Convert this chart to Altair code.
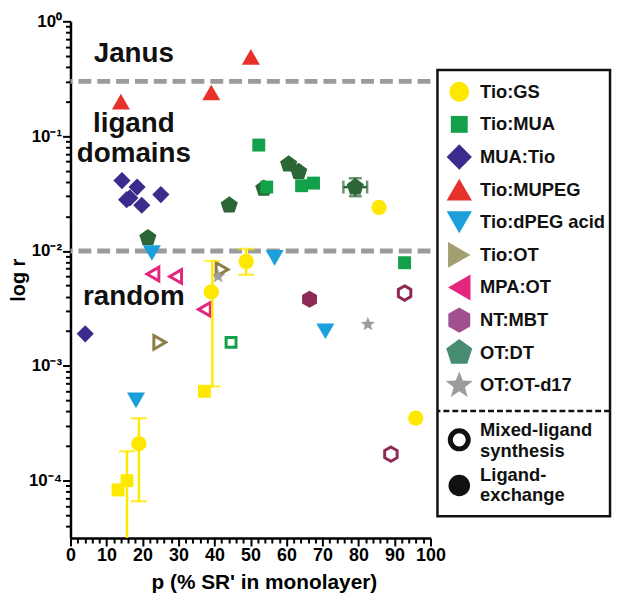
import math
import altair as alt
import pandas as pd

# ---------------- data ----------------
# Tio:GS
GS_P = [85.7, 95.9, 39.1, 19.0, 48.8, 37.2, 13.2, 15.7]
GS_R = [0.024, 3.5e-4, 0.0044, 2.1e-4, 0.0081, 6.0e-4, 8.3e-5, 1.0e-4]
GS_OPEN = [0, 0, 0, 0, 0, 0, 0, 0]
GS_SQ = [0, 0, 0, 0, 0, 1, 1, 1]
# Tio:MUA
MUA_P = [52.3, 54.5, 64.2, 67.5, 92.8, 44.6]
MUA_R = [0.0836, 0.036, 0.037, 0.039, 0.0079, 0.0016]
MUA_OPEN = [0, 0, 0, 0, 0, 1]
# MUA:Tio
MT_P = [14.3, 18.5, 16.5, 19.8, 25.1, 15.6, 4.1]
MT_R = [0.041, 0.036, 0.029, 0.025, 0.031, 0.028, 0.0019]
MT_OPEN = [0, 0, 0, 0, 0, 0, 0]
# Tio:MUPEG
PEG_P = [14.0, 39.1, 50.1]
PEG_R = [0.20, 0.24, 0.49]
PEG_OPEN = [0, 0, 0]
# Tio:dPEG acid
DP_P = [22.6, 56.7, 70.8, 18.2]
DP_R = [0.0096, 0.0087, 0.0020, 5.0e-4]
DP_OPEN = [0, 0, 0, 0]
# Tio:OT
TOT_P = [42.1, 24.8]
TOT_R = [0.0069, 0.0016]
TOT_OPEN = [1, 1]
# MPA:OT
MPA_P = [22.9, 29.2, 37.2]
MPA_R = [0.0063, 0.0060, 0.0031]
MPA_OPEN = [1, 1, 1]
# NT:MBT
NT_P = [66.4, 92.8, 89.0]
NT_R = [0.0038, 0.0043, 1.7e-4]
NT_OPEN = [0, 1, 1]
# OT:DT
DT_P = [21.5, 44.1, 53.7, 60.6, 63.4, 79.1]
DT_R = [0.013, 0.025, 0.035, 0.057, 0.049, 0.036]
DT_OPEN = [0, 0, 0, 0, 0, 0]
# OT:OT-d17
D17_P = [41.0, 82.6]
D17_R = [0.0060, 0.0023]
D17_OPEN = [0, 0]

# vertical error bars (Tio:GS)
GS_ERR_P = [39.4, 48.8, 19.0, 15.7]
GS_ERR_LO = [6.6e-4, 0.0062, 6.6e-5, 1e-6]
GS_ERR_HI = [0.0082, 0.0104, 3.5e-4, 1.8e-4]
# OT:DT error bars (one point)
DT_ERR_P = [79.1]
DT_ERR_R = [0.036]
DT_ERR_PLO = [75.8]
DT_ERR_PHI = [82.4]
DT_ERR_RLO = [0.030]
DT_ERR_RHI = [0.043]

THRESH = [0.3, 0.01]
ANNOT_TEXT = ["Janus", "ligand", "domains", "random"]
ANNOT_P = [17.6, 17.6, 17.6, 17.6]
ANNOT_R = [0.52, 0.127, 0.070, 0.0040]

LEGEND_LABELS = ["Tio:GS", "Tio:MUA", "MUA:Tio", "Tio:MUPEG", "Tio:dPEG acid",
                 "Tio:OT", "MPA:OT", "NT:MBT", "OT:DT", "OT:OT-d17"]

# ---------------- styles ----------------
FONT = "Liberation Sans"
HEX = "M0,-1L0.866,-0.5L0.866,0.5L0,1L-0.866,0.5L-0.866,-0.5Z"


def poly(n, r_in=None):
    pts = []
    k = n * (2 if r_in else 1)
    for i in range(k):
        a = -math.pi / 2 + i * 2 * math.pi / k
        rr = 1 if (r_in is None or i % 2 == 0) else r_in
        pts.append(f"{rr * math.cos(a):.3f},{rr * math.sin(a):.3f}")
    return "M" + "L".join(pts) + "Z"


PENT = poly(5)
STAR = poly(5, 0.42)

# name: (plot colour, legend colour, shape, filled size, open size, legend size)
STY = {
    "Tio:GS": ("#FFE800", "#FFE800", "circle", 240, 200, 400),
    "Tio:MUA": ("#12A04A", "#12A04A", "square", 170, 100, 290),
    "MUA:Tio": ("#3C2A8C", "#3C2A8C", "diamond", 300, 200, 650),
    "Tio:MUPEG": ("#E8312B", "#E8312B", "triangle-up", 330, 250, 650),
    "Tio:dPEG acid": ("#1BA0DC", "#1BA0DC", "triangle-down", 330, 250, 650),
    "Tio:OT": ("#8C7E42", "#A39F72", "triangle-right", 300, 190, 680),
    "MPA:OT": ("#E5267E", "#E5267E", "triangle-left", 300, 190, 680),
    "NT:MBT": ("#8D2A56", "#A24F8F", HEX, 300, 210, 650),
    "OT:DT": ("#2C6636", "#488C72", PENT, 330, 250, 760),
    "OT:OT-d17": ("#9C9C9C", "#9C9C9C", STAR, 230, 180, 820),
}

rows = []


def add(name, ps, rs, opens, shapes=None):
    col, _, shp, s_f, s_o, _ = STY[name]
    for i, (p, r, o) in enumerate(zip(ps, rs, opens)):
        sh = shp
        if shapes is not None and shapes[i]:
            sh = "square"
        rows.append(dict(series=name, p=p, r=r,
                         shape=sh,
                         fill="#ffffff" if o else col,
                         stroke=col,
                         sw=3 if o else 0,
                         size=(s_o if o else (170 if sh == "square" and name == "Tio:GS" else s_f))))


add("OT:DT", DT_P, DT_R, DT_OPEN)
add("Tio:MUA", MUA_P, MUA_R, MUA_OPEN)
add("MUA:Tio", MT_P, MT_R, MT_OPEN)
add("Tio:MUPEG", PEG_P, PEG_R, PEG_OPEN)
add("Tio:dPEG acid", DP_P, DP_R, DP_OPEN)
add("Tio:OT", TOT_P, TOT_R, TOT_OPEN)
add("MPA:OT", MPA_P, MPA_R, MPA_OPEN)
add("NT:MBT", NT_P, NT_R, NT_OPEN)
add("OT:OT-d17", D17_P, D17_R, D17_OPEN)
add("Tio:GS", GS_P, GS_R, GS_OPEN, GS_SQ)
pts_df = pd.DataFrame(rows)

W, H = 363, 521
YDOM = [10 ** -4.5, 1]

y_vals = []
for e in range(-5, 0):
    for m in range(1, 10):
        v = m * 10 ** e
        if YDOM[0] <= v <= 1.0001:
            y_vals.append(v)
y_vals.append(1.0)

is_major_y = "abs(log(datum.value)/LN10 - round(log(datum.value)/LN10)) < 0.001"
y_label = ("abs(log(datum.value)/LN10 - round(log(datum.value)/LN10)) < 0.001 ? "
           "'10' + ['\u2070','\u207b\u00b9','\u207b\u00b2','\u207b\u00b3','\u207b\u2074']"
           "[-round(log(datum.value)/LN10)] : ''")

x_scale = alt.Scale(domain=[0, 100], nice=False, zero=False)
y_scale = alt.Scale(type="log", domain=YDOM, nice=False)

x_axis = alt.Axis(
    values=list(range(0, 101, 2)),
    labelExpr="datum.value % 10 == 0 ? datum.label : ''",
    tickSize={"condition": {"test": "datum.value % 10 == 0", "value": 8}, "value": 5},
    tickWidth=2, tickColor="black", domainWidth=2.5, domainColor="black",
    labelFont=FONT, labelFontSize=18, labelFontWeight="bold", labelColor="black",
    labelFlush=False, labelOverlap=False, labelPadding=1,
    title="p (% SR' in monolayer)", titleFont=FONT, titleFontSize=21,
    titleFontWeight="bold", titleColor="black", titlePadding=7, titleX=195,
    grid=False,
)
y_axis = alt.Axis(
    values=y_vals, labelExpr=y_label,
    tickSize={"condition": {"test": is_major_y, "value": 8}, "value": 5},
    tickWidth=2, tickColor="black", domainWidth=2.5, domainColor="black",
    labelFont=FONT, labelFontSize=17, labelFontWeight="bold", labelColor="black",
    labelOverlap=False, labelPadding=1, labelFlush=False,
    title="log r", titleFont=FONT, titleFontSize=20, titleFontWeight="bold",
    titleColor="black", titlePadding=0,
    grid=False,
)

base_x = alt.X("p:Q", scale=x_scale, axis=x_axis)
base_y = alt.Y("r:Q", scale=y_scale, axis=y_axis)

thr = alt.Chart(pd.DataFrame({"r": THRESH})).mark_rule(
    color="#9b9b9b", strokeWidth=5, strokeDash=[13, 6]
).encode(y=alt.Y("r:Q", scale=y_scale, axis=y_axis))

annot = alt.Chart(pd.DataFrame({"t": ANNOT_TEXT, "p": ANNOT_P, "r": ANNOT_R})).mark_text(
    font=FONT, fontSize=28, fontWeight="bold", color="#111111", align="center", baseline="middle"
).encode(x=base_x, y=base_y, text="t:N")

gs_err_df = pd.DataFrame({"p": GS_ERR_P, "lo": GS_ERR_LO, "hi": GS_ERR_HI})
gs_bar = alt.Chart(gs_err_df).mark_rule(color="#FFE800", strokeWidth=2.5, clip=True).encode(
    x=base_x, y=alt.Y("lo:Q", scale=y_scale, axis=y_axis), y2="hi:Q")
gs_cap_hi = alt.Chart(gs_err_df).mark_tick(color="#FFE800", orient="horizontal", size=16,
                                           thickness=2.5, clip=True).encode(
    x=base_x, y=alt.Y("hi:Q", scale=y_scale, axis=y_axis))
gs_cap_lo = alt.Chart(gs_err_df).mark_tick(color="#FFE800", orient="horizontal", size=16,
                                           thickness=2.5, clip=True).encode(
    x=base_x, y=alt.Y("lo:Q", scale=y_scale, axis=y_axis))

dt_err_df = pd.DataFrame({"p": DT_ERR_P, "r": DT_ERR_R, "plo": DT_ERR_PLO, "phi": DT_ERR_PHI,
                          "rlo": DT_ERR_RLO, "rhi": DT_ERR_RHI})
DTC = STY["OT:DT"][0]
dt_v = alt.Chart(dt_err_df).mark_rule(color=DTC, strokeWidth=2.5).encode(
    x=base_x, y=alt.Y("rlo:Q", scale=y_scale, axis=y_axis), y2="rhi:Q")
dt_h = alt.Chart(dt_err_df).mark_rule(color=DTC, strokeWidth=2.5).encode(
    x=alt.X("plo:Q", scale=x_scale, axis=x_axis), x2="phi:Q", y=base_y)
dt_caps_v = [alt.Chart(dt_err_df).mark_tick(color=DTC, orient="horizontal", size=13, thickness=2.5).encode(
    x=base_x, y=alt.Y(f"{c}:Q", scale=y_scale, axis=y_axis)) for c in ("rlo", "rhi")]
dt_caps_h = [alt.Chart(dt_err_df).mark_tick(color=DTC, orient="vertical", size=13, thickness=2.5).encode(
    x=alt.X(f"{c}:Q", scale=x_scale, axis=x_axis), y=base_y) for c in ("plo", "phi")]

points = alt.Chart(pts_df).mark_point(filled=True, opacity=1, fillOpacity=1).encode(
    x=base_x, y=base_y,
    shape=alt.Shape("shape:N", scale=None),
    fill=alt.Fill("fill:N", scale=None),
    stroke=alt.Stroke("stroke:N", scale=None),
    strokeWidth=alt.StrokeWidth("sw:Q", scale=None),
    size=alt.Size("size:Q", scale=None),
)

main = alt.layer(thr, annot, dt_v, dt_h, *dt_caps_v, *dt_caps_h, points,
                 gs_bar, gs_cap_hi, gs_cap_lo).properties(width=W, height=H)

# ---------------- legend panel ----------------
LW, LH = 174, 450
MX, TX = 22, 43
row_y = [22 + 32.9 * i for i in range(len(LEGEND_LABELS))]
leg_rows = []
for name, yy in zip(LEGEND_LABELS, row_y):
    _, lc, shp, _, _, ls = STY[name]
    leg_rows.append(dict(x=MX, y=yy, shape=shp, fill=lc, stroke=lc, sw=0, size=ls))
leg_rows.append(dict(x=MX, y=373, shape="circle", fill="#ffffff", stroke="#111111", sw=5, size=330))
leg_rows.append(dict(x=MX, y=419, shape="circle", fill="#111111", stroke="#111111", sw=0, size=470))
leg_pts = pd.DataFrame(leg_rows)

leg_txt = pd.DataFrame({
    "t": LEGEND_LABELS + ["Mixed-ligand", "synthesis", "Ligand-", "exchange"],
    "x": [TX] * (len(LEGEND_LABELS) + 4),
    "y": row_y + [363, 384, 408, 429],
})

lx = alt.Scale(domain=[0, LW], nice=False, zero=False)
ly = alt.Scale(domain=[0, LH], nice=False, zero=False, reverse=True)

leg_marks = alt.Chart(leg_pts).mark_point(filled=True, opacity=1, fillOpacity=1).encode(
    x=alt.X("x:Q", scale=lx, axis=None), y=alt.Y("y:Q", scale=ly, axis=None),
    shape=alt.Shape("shape:N", scale=None), fill=alt.Fill("fill:N", scale=None),
    stroke=alt.Stroke("stroke:N", scale=None), strokeWidth=alt.StrokeWidth("sw:Q", scale=None),
    size=alt.Size("size:Q", scale=None))
leg_text = alt.Chart(leg_txt).mark_text(font=FONT, fontSize=18.5, fontWeight="bold", color="#111111",
                                        align="left", baseline="middle").encode(
    x=alt.X("x:Q", scale=lx, axis=None), y=alt.Y("y:Q", scale=ly, axis=None), text="t:N")
leg_sep = alt.Chart(pd.DataFrame({"y": [344]})).mark_rule(color="#111111", strokeWidth=2.5,
                                                         strokeDash=[6, 3]).encode(
    y=alt.Y("y:Q", scale=ly, axis=None))

legend = alt.layer(leg_sep, leg_marks, leg_text).properties(
    width=LW, height=LH, view=alt.ViewBackground(stroke="#111111", strokeWidth=2.5))

spacer = alt.Chart(pd.DataFrame({"a": [0]})).mark_point(opacity=0).encode(
    x=alt.value(0), y=alt.value(0)).properties(width=LW, height=49,
                                               view=alt.ViewBackground(stroke=None))

right = alt.vconcat(spacer, legend, spacing=0, bounds="flush")

chart = alt.hconcat(main, right, spacing=7, bounds="flush").properties(
    padding={"left": 0, "top": 2, "right": 0, "bottom": 0}
).configure(font=FONT).configure_view(stroke=None)

chart.save("out.html", embed_options={"renderer": "svg", "actions": False})
